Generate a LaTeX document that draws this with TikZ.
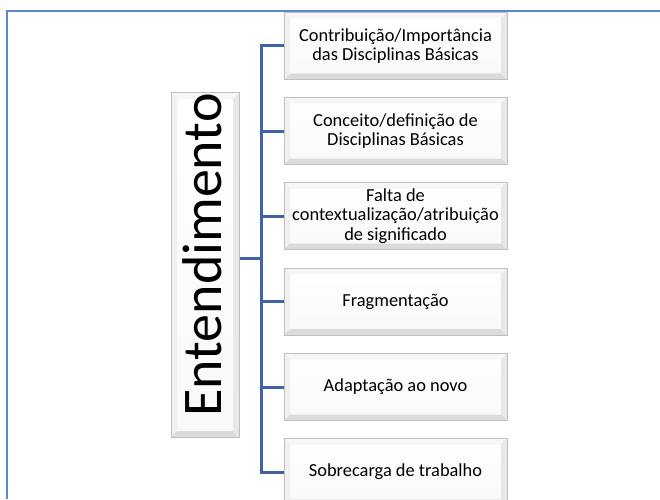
\documentclass[tikz,border=0pt]{standalone}
\usepackage{fontspec}
\setmainfont{Carlito}
\definecolor{linkblue}{HTML}{3F62A8}
\definecolor{framblue}{HTML}{5A86D2}
\tikzset{
  bevel/.style={draw=gray!50, line width=1pt, fill=white, inner sep=0pt,
    path picture={
      \path (path picture bounding box.south west) coordinate (sw)
            (path picture bounding box.north east) coordinate (ne);
      \shade[top color=white, bottom color=gray!5] (sw) rectangle (ne);
      \fill[gray!7] (sw |- ne) -- (ne) -- ([shift={(-6pt,-6pt)}]ne) -- ([shift={(6pt,-6pt)}]sw |- ne) -- cycle;
      \fill[gray!12] (sw) -- (sw |- ne) -- ([shift={(6pt,-6pt)}]sw |- ne) -- ([shift={(6pt,6pt)}]sw) -- cycle;
      \fill[gray!28] (sw) -- (ne |- sw) -- ([shift={(-6pt,6pt)}]ne |- sw) -- ([shift={(6pt,6pt)}]sw) -- cycle;
      \fill[gray!18] (ne |- sw) -- (ne) -- ([shift={(-6pt,-6pt)}]ne) -- ([shift={(-6pt,6pt)}]ne |- sw) -- cycle;
    }},
  child/.style={bevel, minimum width=223pt, minimum height=67pt, align=center,
    font=\fontsize{18.4}{19.8}\selectfont},
  link/.style={draw=linkblue, line width=3pt},
}
\begin{document}
\begin{tikzpicture}[x=1pt,y=1pt]
\useasboundingbox (0,0) rectangle (660,499);
% frame
\draw[framblue, line width=2.5pt] (7,0) -- (7,488) -- (662,488);
% main box
\node[bevel, minimum width=68pt, minimum height=344pt] (main) at (205,234) {};
\node[rotate=90, anchor=base, font=\fontsize{56}{60}\selectfont] (maintxt) at (221,244) {Entendimento};
% children
\node[child] (c1) at (395.5,453) {Contribuição/Importância\\das Disciplinas Básicas};
\node[child] (c2) at (395.5,368) {Conceito/definição de\\Disciplinas Básicas};
\node[child] (c3) at (395.5,283) {Falta de\\contextualização/atribuição\\de significado};
\node[child] (c4) at (395.5,197.5) {Fragmentação};
\node[child] (c5) at (395.5,112) {Adaptação ao novo};
\node[child] (c6) at (395.5,27) {Sobrecarga de trabalho};
% connectors
\coordinate (j) at (261,241);
\coordinate (top) at (261,453);
\coordinate (bot) at (261,27);
\draw[link] (main.east |- j) -- (j);
\draw[link] (top -| c1.west) -- (top) -- (bot) -- (bot -| c6.west);
\foreach \n in {c2,c3,c4,c5} {
  \draw[link] (\n.west) -- (\n.west -| j);
}
\end{tikzpicture}
\end{document}
